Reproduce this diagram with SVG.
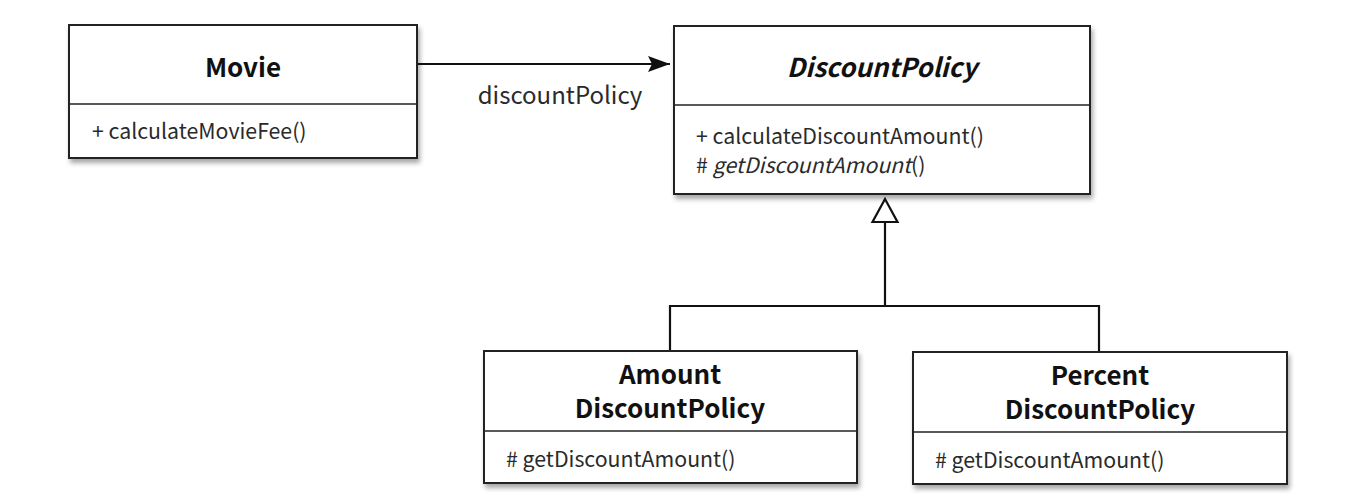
<svg xmlns="http://www.w3.org/2000/svg" width="1372" height="502" viewBox="0 0 1372 502">
<style>
text{font-family:"Noto Sans CJK KR","Noto Sans","Liberation Sans",sans-serif;fill:#1a1a1a}
.title{font-size:26px;font-weight:bold;text-anchor:middle;fill:#111}
.mem{font-size:21.3px;fill:#2a2a2a}
.lbl{font-size:24px;text-anchor:middle;fill:#2a2a2a}
.it{font-style:italic}
.box{fill:#fff;stroke:#222;stroke-width:2}
.div{stroke:#222;stroke-width:1.6}
.conn{fill:none;stroke:#111;stroke-width:2.2}
</style>
<defs>
<filter id="sh" x="-5%" y="-10%" width="115%" height="130%">
<feGaussianBlur in="SourceAlpha" stdDeviation="2.5"/>
<feOffset dx="2" dy="4" result="b"/>
<feComponentTransfer><feFuncA type="linear" slope="0.35"/></feComponentTransfer>
<feMerge><feMergeNode/><feMergeNode in="SourceGraphic"/></feMerge>
</filter>
<marker id="arrow" markerWidth="24" markerHeight="16" viewBox="0 0 24 16" refX="22" refY="8" orient="auto" markerUnits="userSpaceOnUse">
<path d="M0,0 L22,8 L0,16 L4,8 Z" fill="#111"/>
</marker>
</defs>
<rect width="1372" height="502" fill="#fff"/>

<g id="connectors">
<line class="conn" x1="417" y1="64" x2="670" y2="64" marker-end="url(#arrow)"/>
<text class="lbl" x="560" y="104">discountPolicy</text>
<path class="conn" d="M670,351 V306 H1099 V352"/>
<line class="conn" x1="885" y1="306" x2="885" y2="222"/>
<polygon points="885,199 872.5,222 897.5,222" fill="#fff" stroke="#111" stroke-width="2.2"/>
</g>

<g id="movie">
<rect class="box" x="69" y="25" width="348" height="133" filter="url(#sh)"/>
<line class="div" x1="69" y1="104" x2="417" y2="104"/>
<text class="title" x="243" y="77">Movie</text>
<text class="mem" x="92" y="139">+ calculateMovieFee()</text>
</g>

<g id="discountPolicy">
<rect class="box" x="674" y="26" width="416" height="168" filter="url(#sh)"/>
<line class="div" x1="674" y1="105" x2="1090" y2="105"/>
<text class="title it" x="882" y="77">DiscountPolicy</text>
<text class="mem" x="696" y="144">+ calculateDiscountAmount()</text>
<text class="mem" x="696" y="173"># <tspan class="it">getDiscountAmount</tspan>()</text>
</g>

<g id="amountDiscountPolicy">
<rect class="box" x="484" y="351" width="373" height="132" filter="url(#sh)"/>
<line class="div" x1="484" y1="431" x2="857" y2="431"/>
<text class="title" x="670" y="384">Amount<tspan x="670" dy="34">DiscountPolicy</tspan></text>
<text class="mem" x="506" y="467"># getDiscountAmount()</text>
</g>

<g id="percentDiscountPolicy">
<rect class="box" x="913" y="352" width="374" height="132" filter="url(#sh)"/>
<line class="div" x1="913" y1="432" x2="1287" y2="432"/>
<text class="title" x="1100" y="385">Percent<tspan x="1100" dy="34">DiscountPolicy</tspan></text>
<text class="mem" x="935" y="468"># getDiscountAmount()</text>
</g>
</svg>
